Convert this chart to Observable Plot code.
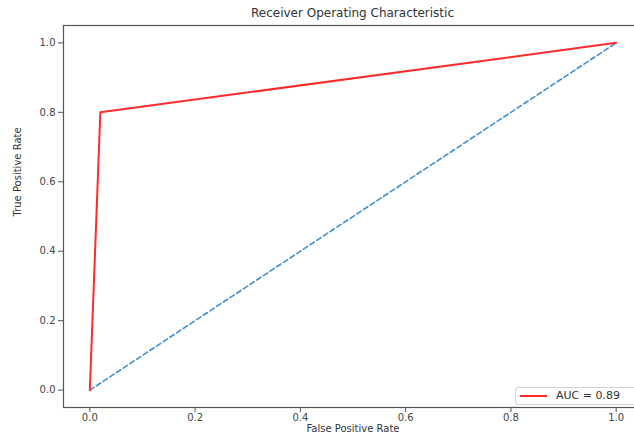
<!DOCTYPE html>
<html>
<head>
<meta charset="utf-8">
<script src="https://cdn.jsdelivr.net/npm/d3@7"></script>
<script src="https://cdn.jsdelivr.net/npm/@observablehq/plot@0.6"></script>
<style>
html, body { margin: 0; padding: 0; overflow: hidden; background: #fff; width: 634px; height: 436px; }
#wrap { position: relative; width: 705px; height: 436px; font-family: "DejaVu Sans", sans-serif; }
#title { position: absolute; left: 0; top: 6px; width: 705px; text-align: center; font-size: 12px; color: #333; line-height: 14px; }
#chart { position: absolute; left: 0; top: 24px; }
#legend { position: absolute; left: 515px; top: 387px; width: 124px; height: 16px; border: 1px solid #d0d0d0; border-radius: 3px; background: #fff; font-size: 11px; color: #333; }
#legend .ln { position: absolute; left: 4px; top: 7px; width: 27px; height: 0; border-top: 2px solid #ff2a2a; }
#legend .tx { position: absolute; left: 40px; top: 1px; line-height: 14px; }
</style>
</head>
<body>
<div id="wrap">
  <div id="title"></div>
  <div id="chart"></div>
  <div id="legend"><span class="ln"></span><span class="tx"></span></div>
</div>
<script>
const titleText = "Receiver Operating Characteristic";
const xLabel = "False Positive Rate";
const yLabel = "True Positive Rate";
const legendLabel = "AUC = 0.89";
const fpr = [0, 0.02, 1];
const tpr = [0, 0.8, 1];
const chanceX = [0, 1];
const chanceY = [0, 1];
const tickValues = [0, 0.2, 0.4, 0.6, 0.8, 1.0];

document.getElementById("title").textContent = titleText;
document.querySelector("#legend .tx").textContent = legendLabel;

const roc = fpr.map((f, i) => ({x: f, y: tpr[i]}));
const chance = chanceX.map((f, i) => ({x: f, y: chanceY[i]}));

const chart = Plot.plot({
  width: 705,
  height: 412,
  marginTop: 1,
  marginBottom: 29,
  marginLeft: 63,
  marginRight: 63,
  style: {fontFamily: "DejaVu Sans, sans-serif", fontSize: "10px", color: "#444", background: "#fff"},
  x: {domain: [-0.05, 1.05], ticks: tickValues, tickFormat: d3.format(".1f")},
  y: {domain: [-0.05, 1.05], ticks: tickValues, tickFormat: d3.format(".1f")},
  marks: [
    Plot.frame({stroke: "#555", strokeWidth: 1.2}),
    Plot.axisX({ticks: tickValues, tickFormat: d3.format(".1f"), tickSize: 5, tickPadding: 1, label: null, stroke: "#555", fontSize: 10}),
    Plot.axisY({ticks: tickValues, tickFormat: d3.format(".1f"), tickSize: 5, tickPadding: 3, label: null, stroke: "#555", fontSize: 10}),
    Plot.line(chance, {x: "x", y: "y", stroke: "#3f8fd0", strokeWidth: 1.6, strokeDasharray: "5,3"}),
    Plot.line(roc, {x: "x", y: "y", stroke: "#ff2a2a", strokeWidth: 2}),
    Plot.text([xLabel], {text: d => d, frameAnchor: "bottom", dy: 24, fontSize: 10, fill: "#333"}),
    Plot.text([yLabel], {text: d => d, frameAnchor: "left", rotate: -90, dx: -46, fontSize: 10, fill: "#333"})
  ]
});
document.getElementById("chart").appendChild(chart);
</script>
</body>
</html>
